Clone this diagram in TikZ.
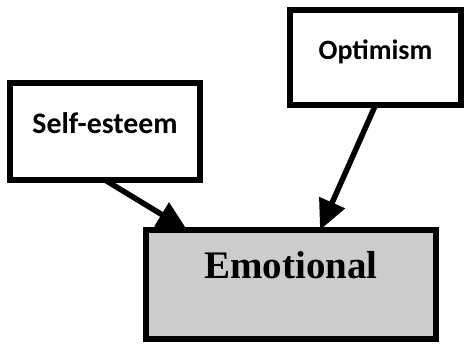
\documentclass[tikz,border=0pt]{standalone}
\usepackage{fontspec}
\newfontfamily\calfont{Carlito}
\newfontfamily\timesfont{Liberation Serif}
\usetikzlibrary{arrows.meta,calc,backgrounds}
\tikzset{
  smallbox/.style={draw=black, line width=5.5pt, fill=white, inner sep=0pt, outer sep=0pt,
    font=\calfont\bfseries\fontsize{28}{30}\selectfont},
  mainbox/.style={draw=black, line width=6pt, fill=black!20, inner sep=0pt, outer sep=0pt,
    font=\timesfont\bfseries\fontsize{39}{42}\selectfont,
    minimum width=290pt, minimum height=109pt, text height=26pt, text depth=39pt},
  conn/.style={draw=black, line width=5.5pt, -{Triangle[width=27pt,length=30pt]}}
}
\begin{document}
\begin{tikzpicture}[x=1pt,y=-1pt]
\useasboundingbox (0,0) rectangle (465,344);
\node[smallbox, minimum width=190pt, minimum height=97pt, text height=19pt, text depth=15pt,
  font=\calfont\bfseries\fontsize{29.8}{32}\selectfont]
  (se) at (105,131.5) {Self-esteem};
\node[smallbox, minimum width=171pt, minimum height=95pt, text height=18pt, text depth=13pt]
  (op) at (375.5,57.5) {Optimism};
\node[mainbox] (em) at (291,284.5) {Emotional};
\begin{scope}[on background layer]
\draw[conn] (se.south) -- ($(em.north west)!0.142!(em.north east)$);
\draw[conn] (op.south) -- ($(em.north west)!0.60!(em.north east)$);
\end{scope}
\end{tikzpicture}
\end{document}
